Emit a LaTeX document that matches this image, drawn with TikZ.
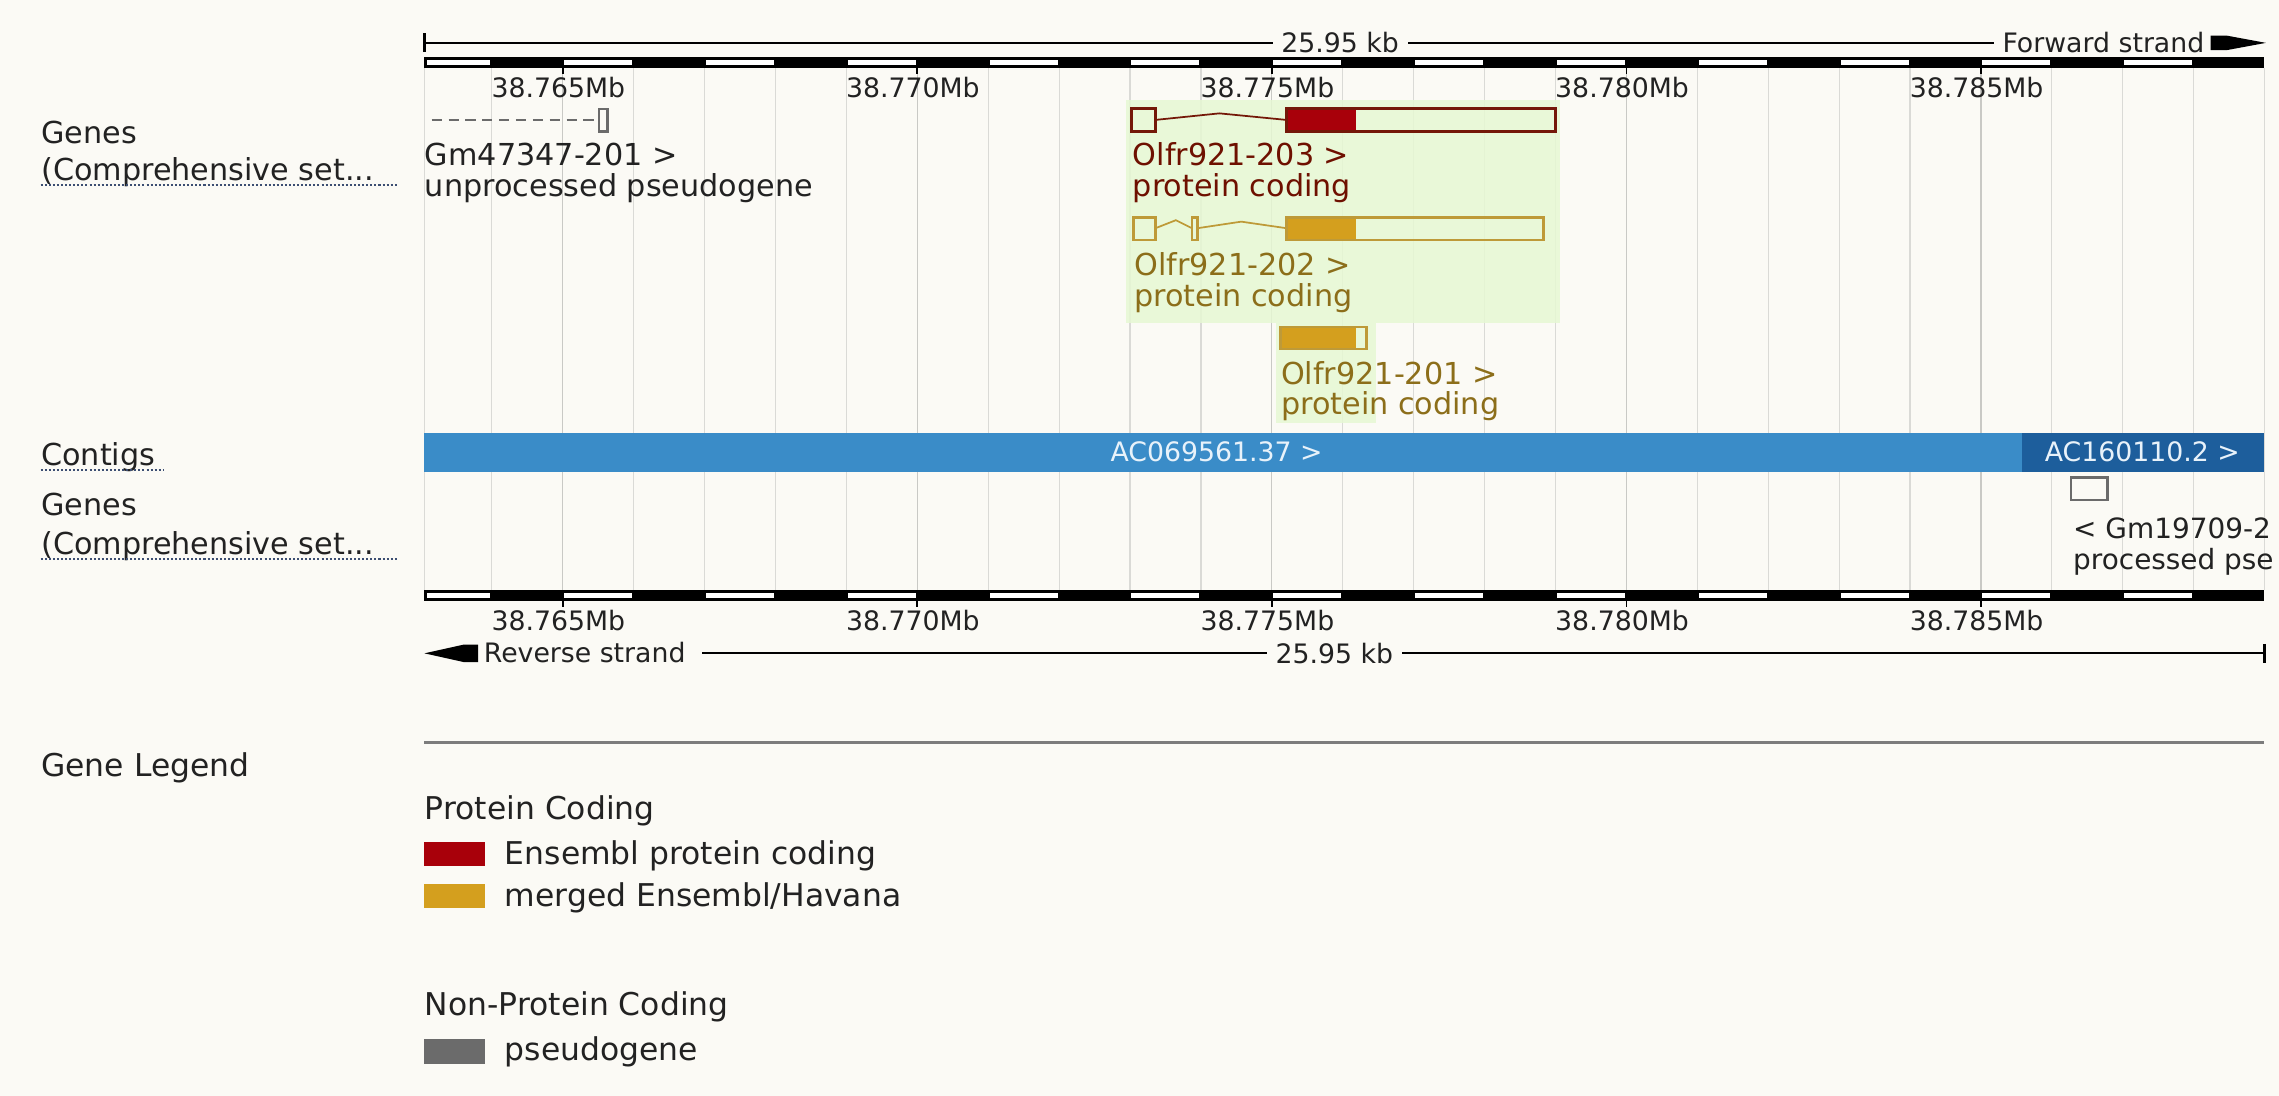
\documentclass[tikz,border=0pt]{standalone}
\usepackage{fontspec}
\setmainfont{DejaVu Sans}
\usetikzlibrary{calc}
\definecolor{bg}{HTML}{FBFAF5}
\definecolor{txt}{HTML}{222222}
\definecolor{gridc}{HTML}{DADAD6}
\definecolor{gridd}{HTML}{C9C9C5}
\definecolor{ensred}{HTML}{A8000A}
\definecolor{ensredline}{HTML}{741808}
\definecolor{redtxt}{HTML}{6E1000}
\definecolor{gold}{HTML}{D49F1E}
\definecolor{goldline}{HTML}{BE9A38}
\definecolor{goldtxt}{HTML}{8C6E1A}
\definecolor{hilite}{HTML}{E6F8D3}
\definecolor{contig}{HTML}{3A8CC8}
\definecolor{contigdk}{HTML}{1D5E9C}
\definecolor{contigtxt}{HTML}{E8F2FA}
\definecolor{pseudo}{HTML}{6B6B6B}
\definecolor{legline}{HTML}{7C7C7C}
\definecolor{uline}{HTML}{3C4E72}
\newcommand\rulerfnt{\fontsize{9.2}{11}\selectfont}
\newcommand\lblfnt{\fontsize{10.4}{12}\selectfont}
\newcommand\cutfnt{\fontsize{9.6}{11}\selectfont}
\newcommand\legfnt{\fontsize{10.8}{13}\selectfont}
\begin{document}
\begin{tikzpicture}[x=0.5pt,y=-0.5pt,
  rtext/.style={font=\rulerfnt,text=txt,inner sep=0pt},
  ltext/.style={font=\lblfnt,text=txt,inner sep=0pt,anchor=base west},
  gtext/.style={font=\legfnt,text=txt,inner sep=0pt,anchor=base west},
  uldots/.style={uline,line width=0.6pt,dash pattern=on 0.7pt off 0.7pt},
  exonbox/.style={line width=0.9pt},
  intron/.style={line width=0.6pt}]
\useasboundingbox (0,0) rectangle (1568,754);
\fill[bg] (0,0) rectangle (1568,754);

% grid lines
\foreach \k in {764,...,788}{
  \draw[gridc,line width=0.4pt] ({292+(\k-763.05)*48.79},47) -- ({292+(\k-763.05)*48.79},406);
}
\foreach \k in {765,770,775,780,785}{
  \draw[gridd,line width=0.45pt] ({292+(\k-763.05)*48.79},47) -- ({292+(\k-763.05)*48.79},406);
}
\draw[gridc,line width=0.4pt] (292,47) -- (292,406);
\draw[gridc,line width=0.4pt] (1558,47) -- (1558,406);

% highlights
\fill[hilite,opacity=0.85] (775,69) rectangle (1073,222);
\fill[hilite,opacity=0.85] (878,222) rectangle (947,291);

% ===== top ruler =====
\coordinate (tl) at (292,29.5);
\coordinate (tr) at (1372,29.5);
\draw[black,line width=0.8pt] (tl) -- (tr);
\draw[black,line width=0.8pt] (292,23) -- (292,36);
\node[rtext,fill=bg,inner xsep=3pt] (tkb) at (922,29.5) {25.95 kb};
\node[rtext,anchor=east] (fwd) at (1517,29.5) {Forward strand};
\fill[black] (1559,29.5) -- (1532,24.5) -- (1521,24.5) -- (1521,34.5) -- (1532,34.5) -- cycle;

\fill[black] (292,39) rectangle (1558,47);
\fill[white] (293.5,41.2) rectangle ({292+(764-763.05)*48.79-1},44.6);
\foreach \k in {765,767,...,787}{
  \fill[white] ({292+(\k-763.05)*48.79+1},41.2) rectangle ({292+(\k+1-763.05)*48.79-1},44.6);
}
\foreach \k/\t in {765/38.765Mb,770/38.770Mb,775/38.775Mb,780/38.780Mb,785/38.785Mb}{
  \draw[black,line width=0.6pt] ({292+(\k-763.05)*48.79},43) -- ({292+(\k-763.05)*48.79},51);
  \node[rtext] (tt\k) at ({292+(\k-763.05)*48.79-3},60) {\t};
}

% ===== gene track (forward) =====
% Gm47347-201 pseudogene
\draw[pseudo,line width=0.6pt,dash pattern=on 3.5pt off 2.3pt] (297,82.5) -- (411,82.5);
\draw[pseudo,line width=0.8pt] (412,75) rectangle (418,90.5);
\node[ltext] (gm1a) at (292,114) {Gm47347-201 >};
\node[ltext] (gm1b) at (292,135.5) {unprocessed pseudogene};

% Olfr921-203
\draw[ensredline,exonbox] (778.5,74.5) rectangle (795,90.5);
\draw[ensredline,intron] (795,82.5) -- (839,78) -- (885,82.5);
\fill[ensred] (885,74.5) rectangle (933,90.5);
\draw[ensredline,exonbox] (885,74.5) rectangle (1070,90.5);
\node[ltext,text=redtxt] (o3a) at (779,114) {Olfr921-203 >};
\node[ltext,text=redtxt] (o3b) at (779,135.5) {protein coding};

% Olfr921-202
\draw[goldline,exonbox] (780,149.5) rectangle (795,165);
\draw[goldline,intron] (795,157) -- (809,151.5) -- (820,157);
\draw[goldline,exonbox] (820,149.5) rectangle (824,165);
\draw[goldline,intron] (824,157) -- (854,152.5) -- (885,157);
\fill[gold] (885,149.5) rectangle (933,165);
\draw[goldline,exonbox] (885,149.5) rectangle (1062,165);
\node[ltext,text=goldtxt] (o2a) at (780,189.5) {Olfr921-202 >};
\node[ltext,text=goldtxt] (o2b) at (780,211) {protein coding};

% Olfr921-201
\fill[gold] (881,225) rectangle (933,240);
\draw[goldline,exonbox] (881,225) rectangle (940,240);
\node[ltext,text=goldtxt] (o1a) at (881,264.5) {Olfr921-201 >};
\node[ltext,text=goldtxt] (o1b) at (881,285.5) {protein coding};

% ===== contigs =====
\fill[contig] (292,298) rectangle (1391,325);
\fill[contigdk] (1391,298) rectangle (1558,325);
\node[rtext,text=contigtxt] (c1) at (837,311) {AC069561.37 >};
\node[rtext,text=contigtxt] (c2) at (1474,311) {AC160110.2 >};

% ===== gene track (reverse) =====
\draw[pseudo,line width=0.8pt] (1425,328.5) rectangle (1450,344);
\node[ltext,font=\cutfnt] (gm2a) at (1426,370.5) {< Gm19709-2};
\node[ltext,font=\cutfnt] (gm2b) at (1426,391.5) {processed pse};

% ===== bottom ruler =====
\fill[black] (292,406) rectangle (1558,413.5);
\fill[white] (293.5,408.2) rectangle ({292+(764-763.05)*48.79-1},411.5);
\foreach \k in {765,767,...,787}{
  \fill[white] ({292+(\k-763.05)*48.79+1},408.2) rectangle ({292+(\k+1-763.05)*48.79-1},411.5);
}
\foreach \k/\t in {765/38.765Mb,770/38.770Mb,775/38.775Mb,780/38.780Mb,785/38.785Mb}{
  \draw[black,line width=0.6pt] ({292+(\k-763.05)*48.79},410) -- ({292+(\k-763.05)*48.79},417.5);
  \node[rtext] (bt\k) at ({292+(\k-763.05)*48.79-3},427) {\t};
}
\fill[black] (292,449.5) -- (319,443.5) -- (329,443.5) -- (329,455.5) -- (319,455.5) -- cycle;
\node[rtext,anchor=west] (rev) at (332.5,449) {Reverse strand};
\coordinate (bl) at (483,449.5);
\coordinate (br) at (1558,449.5);
\draw[black,line width=0.8pt] (bl) -- (br);
\draw[black,line width=0.8pt] (1558,443) -- (1558,456);
\node[rtext,fill=bg,inner xsep=3pt] (bkb) at (918,449.5) {25.95 kb};

% ===== left track labels =====
\node[ltext] (lg1) at (28,98.5) {Genes};
\node[ltext] (lc1) at (28,124.5) {(Comprehensive set...};
\draw[uldots] (28,127.5) -- (273,127.5);
\node[ltext] (lct) at (28,320.5) {Contigs};
\draw[uldots] (28,323.5) -- (113,323.5);
\node[ltext] (lg2) at (28,355) {Genes};
\node[ltext] (lc2) at (28,381.5) {(Comprehensive set...};
\draw[uldots] (28,384.5) -- (273,384.5);

% ===== legend =====
\draw[legline,line width=0.9pt] (292,511) -- (1558,511);
\node[gtext] (glh) at (28,534.5) {Gene Legend};
\node[gtext] (pch) at (292,563.5) {Protein Coding};
\fill[ensred] (292,579) rectangle (334,596);
\node[gtext] (pc1) at (347,594.5) {Ensembl protein coding};
\fill[gold] (292,608) rectangle (334,625);
\node[gtext] (pc2) at (347,623.5) {merged Ensembl/Havana};
\node[gtext] (nph) at (292,699) {Non-Protein Coding};
\fill[pseudo] (292,715) rectangle (334,732);
\node[gtext] (np1) at (347,729.5) {pseudogene};
\end{tikzpicture}
\end{document}
